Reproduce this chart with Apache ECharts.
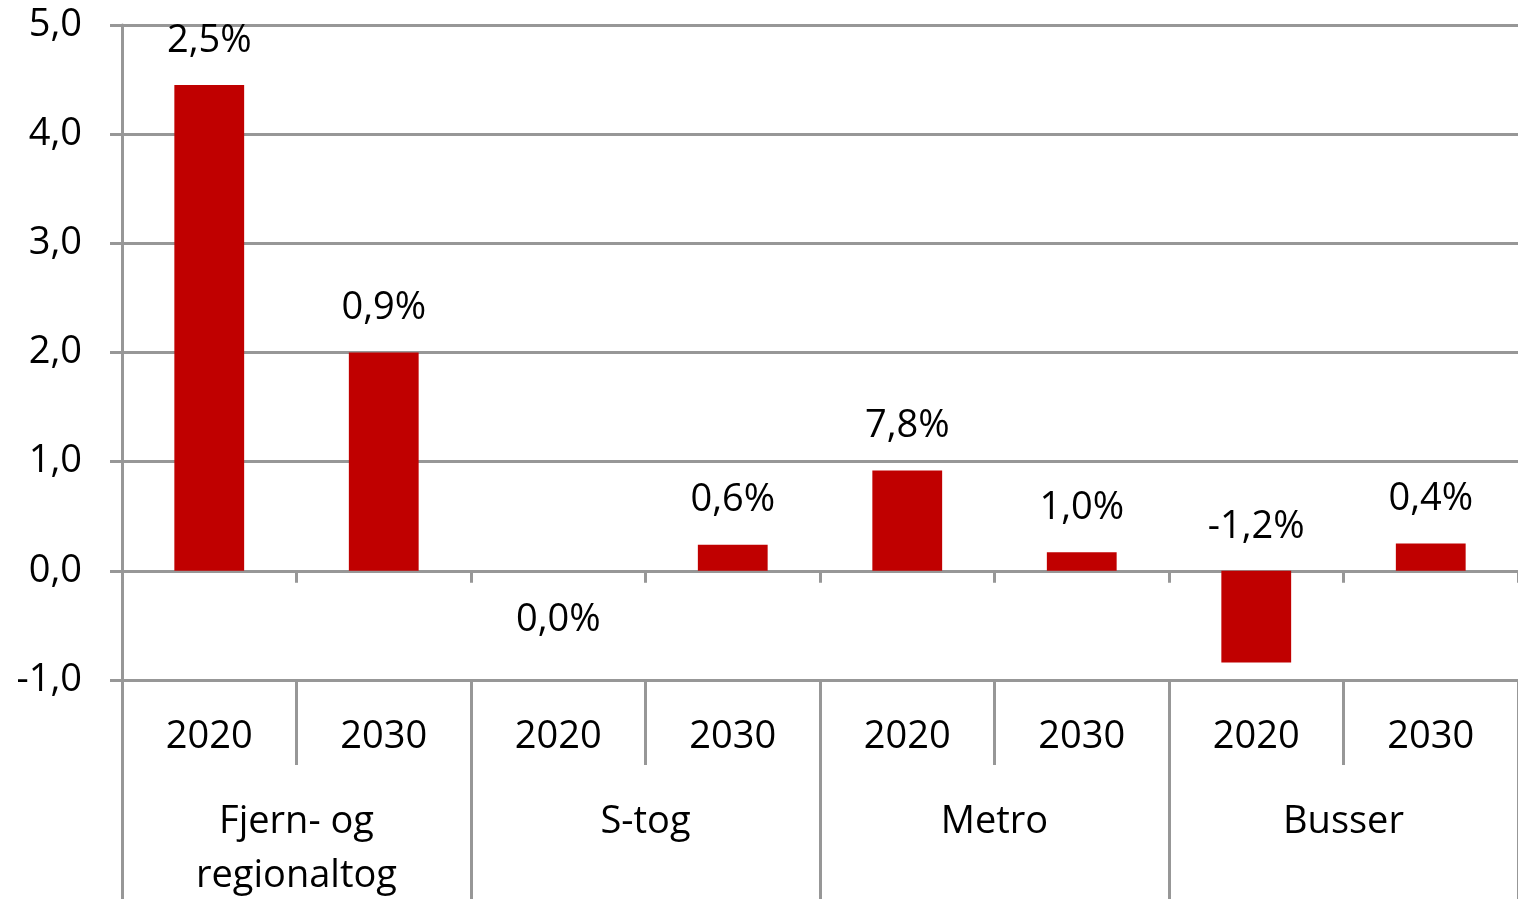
<!DOCTYPE html>
<html>
<head>
<meta charset="utf-8">
<script src="https://cdn.jsdelivr.net/npm/echarts@6/dist/echarts.min.js"></script>
<style>
  html, body { margin: 0; padding: 0; background: #fff; }
  #chart { width: 1518px; height: 899px; }
</style>
</head>
<body>
<div id="chart"></div>
<script>
// data
const years = ["2020", "2030", "2020", "2030", "2020", "2030", "2020", "2030"];
const groups = ["Fjern- og\nregionaltog", "S-tog", "Metro", "Busser"];
const values = [4.45, 2.0, 0, 0.24, 0.92, 0.17, -0.84, 0.25];
const pctLabels = ["2,5%", "0,9%", "0,0%", "0,6%", "7,8%", "1,0%", "-1,2%", "0,4%"];

const gridColor = "#979797";
const font = "Open Sans";
const fs = 38;

var myChart = echarts.init(document.getElementById("chart"));

// zero value gets its label under the axis, like the original
const barData = values.map((v, i) => {
  const item = { value: v };
  if (v === 0) {
    item.label = { position: "bottom", distance: 30 };
  }
  return item;
});

var option = {
  animation: false,
  grid: { left: 122, right: 0, top: 25, bottom: 219, outerBoundsMode: "none" },
  xAxis: [
    {
      // axis at zero with the small ticks
      type: "category",
      data: years,
      position: "bottom",
      axisLine: { onZero: true, lineStyle: { color: gridColor, width: 3 } },
      axisTick: { show: true, length: 12, interval: 0, lineStyle: { color: gridColor, width: 3 } },
      axisLabel: { show: false }
    },
    {
      type: "category",
      data: years,
      position: "bottom",
      axisLine: { show: false, onZero: false },
      axisTick: { show: true, length: 85, interval: 0, lineStyle: { color: gridColor, width: 3 } },
      axisLabel: { interval: 0, margin: 38, color: "#000", fontSize: fs, fontFamily: font }
    },
    {
      type: "category",
      data: groups,
      position: "bottom",
      axisLine: { show: false, onZero: false },
      axisTick: { show: true, length: 222, interval: 0, lineStyle: { color: gridColor, width: 3 } },
      axisLabel: { interval: 0, margin: 115, color: "#000", fontSize: fs, lineHeight: 54, fontFamily: font }
    }
  ],
  yAxis: {
    type: "value",
    min: -1,
    max: 5,
    interval: 1,
    axisLine: { show: true, lineStyle: { color: gridColor, width: 3 } },
    axisTick: { show: true, length: 12, lineStyle: { color: gridColor, width: 3 } },
    splitLine: { show: true, lineStyle: { color: gridColor, width: 3 } },
    axisLabel: {
      margin: 40,
      color: "#000",
      fontSize: fs,
      fontFamily: font,
      formatter: v => v.toFixed(1).replace(".", ",")
    }
  },
  series: [
    {
      type: "bar",
      xAxisIndex: 0,
      data: barData,
      barWidth: "40%",
      itemStyle: { color: "#C00000" },
      label: {
        show: true,
        position: "top",
        distance: 25,
        color: "#000",
        fontSize: fs,
        fontFamily: font,
        formatter: p => pctLabels[p.dataIndex]
      }
    }
  ]
};
option && myChart.setOption(option);
</script>
</body>
</html>
